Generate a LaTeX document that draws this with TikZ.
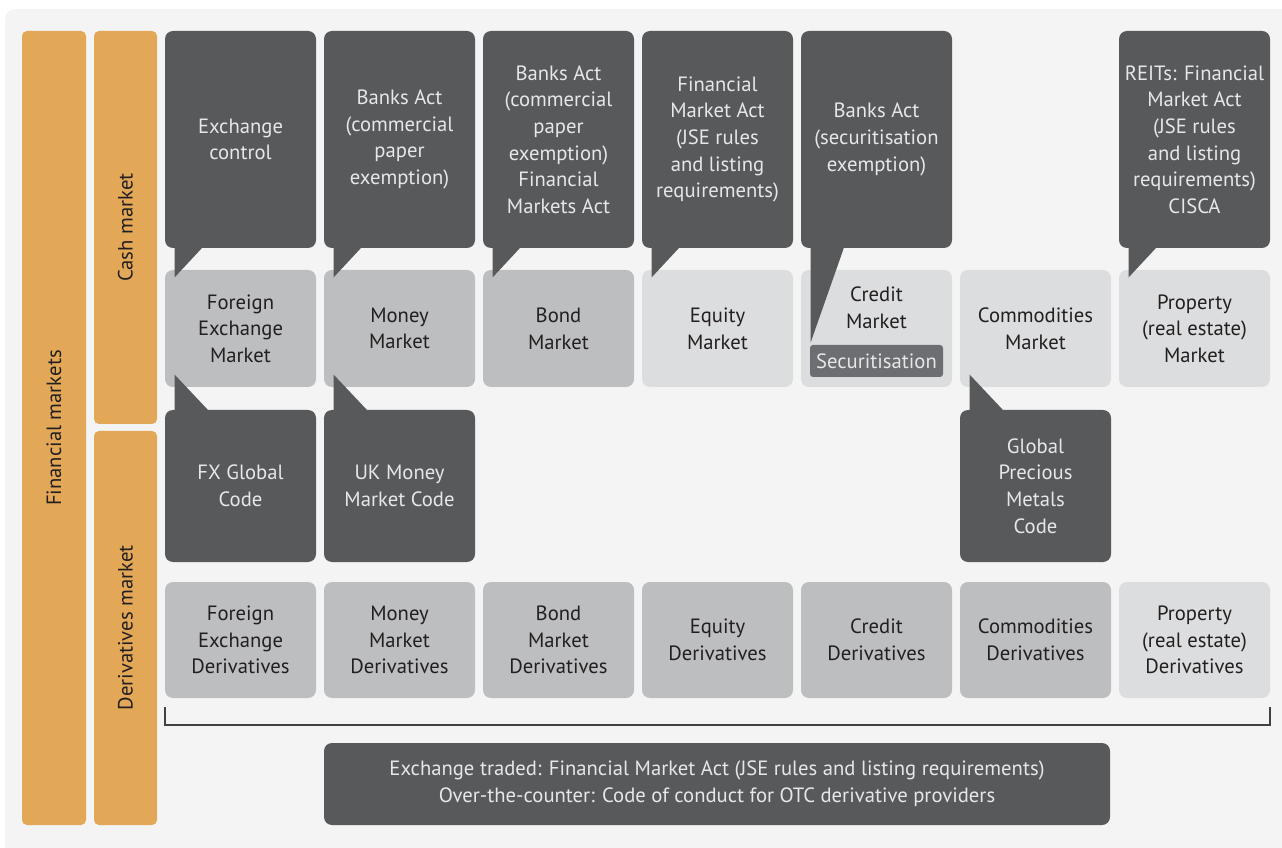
\documentclass[tikz,border=0pt]{standalone}
\usepackage{fontspec}
\setmainfont{PT Sans}
\usepackage{xcolor}
\usepackage{tikz}
\usetikzlibrary{calc}
\definecolor{band}{HTML}{E3A857}
\definecolor{dark}{HTML}{58595B}
\definecolor{midgrey}{HTML}{BDBEC0}
\definecolor{lightgrey}{HTML}{DCDDDE}
\definecolor{backgrey}{HTML}{F4F4F4}
\definecolor{inktext}{HTML}{231F20}
\definecolor{paletext}{HTML}{E6E7E8}
\definecolor{subgrey}{HTML}{6D6E71}
\definecolor{rulegrey}{HTML}{414042}
\newdimen\px \px=0.75pt
\def\colsep{159}

\begin{document}
\begin{tikzpicture}[x=0.75pt,y=-0.75pt, font=\fontsize{15.5}{20}\selectfont]
    \tikzstyle{box}=[rectangle, rounded corners=8\px, inner sep=0pt, align=center, minimum width=151\px]
    \tikzstyle{market}=[box, fill=midgrey, text=inktext, minimum height=117\px]
    \tikzstyle{callout}=[box, fill=dark, text=paletext]
    \tikzstyle{band}=[rectangle, fill=band, rounded corners=5\px, inner sep=0pt, text=inktext, rotate=90]

    \useasboundingbox (0,0) rectangle (1282,848);
    \fill[backgrey, rounded corners=10\px] (5,9) rectangle (1300,870);

    % Draw the orange side bands
    \node[band, minimum width=794\px, minimum height=64\px] (FM) at (54,428) {Financial markets};
    \node[band, minimum width=393\px, minimum height=63\px] (CM) at (125.5,227.5) {Cash market};
    \node[band, minimum width=394\px, minimum height=63\px] (DM) at (125.5,628) {Derivatives market};

    % Draw the cash market nodes
    \foreach \name / \shade / \txt in {1/midgrey/{Foreign\\Exchange\\Market}, 2/midgrey/{Money\\Market},
        3/midgrey/{Bond\\Market}, 4/lightgrey/{Equity\\Market}, 6/lightgrey/{Commodities\\Market},
        7/lightgrey/{Property\\(real estate)\\Market}}
        \node[market, fill=\shade] (M-\name) at ({240.5+(\name-1)*\colsep},328.5) {\txt};
    \node[market, fill=lightgrey] (M-5) at (876.5,328.5) {};
    \node[text=inktext, align=center] (M-5-text) at (876.5,308) {Credit\\Market};

    % Draw the derivatives market nodes
    \foreach \name / \shade / \txt in {1/midgrey/{Foreign\\Exchange\\Derivatives}, 2/midgrey/{Money\\Market\\Derivatives},
        3/midgrey/{Bond\\Market\\Derivatives}, 4/midgrey/{Equity\\Derivatives}, 5/midgrey/{Credit\\Derivatives},
        6/midgrey/{Commodities\\Derivatives}, 7/lightgrey/{Property\\(real estate)\\Derivatives}}
        \node[market, fill=\shade, minimum height=116\px] (D-\name) at ({240.5+(\name-1)*\colsep},640) {\txt};

    % Draw the legislation callouts above the cash market
    \foreach \name / \txt in {1/{Exchange\\control}, 2/{Banks Act\\(commercial\\paper\\exemption)},
        3/{Banks Act\\(commercial\\paper\\exemption)\\Financial\\Markets Act},
        4/{Financial\\Market Act\\(JSE rules\\and listing\\requirements)},
        5/{Banks Act\\(securitisation\\exemption)},
        7/{REITs: Financial\\Market Act\\(JSE rules\\and listing\\requirements)\\CISCA}}
        \node[callout, minimum height=217\px] (C-\name) at ({240.5+(\name-1)*\colsep},139.5) {\txt};

    % Draw the codes of conduct between the rows
    \foreach \name / \txt in {1/{FX Global\\Code}, 2/{UK Money\\Market Code}, 6/{Global\\Precious\\Metals\\Code}}
        \node[callout, minimum height=152\px] (G-\name) at ({240.5+(\name-1)*\colsep},486) {\txt};

    % Pointers of the callouts
    \foreach \name in {1,2,3,4,7}
        \fill[dark] ($(C-\name.south west)+(10,-3)$) -- ($(C-\name.south west)+(10,29)$)
            -- ($(C-\name.south west)+(37,0)$) -- ($(C-\name.south west)+(37,-3)$) -- cycle;
    \fill[dark] ($(C-5.south west)+(10,-3)$) -- ($(C-5.south west)+(10,94)$)
        -- ($(C-5.south west)+(43,0)$) -- ($(C-5.south west)+(43,-3)$) -- cycle;
    \foreach \name in {1,2,6}
        \fill[dark] ($(G-\name.north west)+(10,3)$) -- ($(G-\name.north west)+(10,-35)$)
            -- ($(G-\name.north west)+(43,0)$) -- ($(G-\name.north west)+(43,3)$) -- cycle;

    \node[fill=subgrey, text=paletext, rounded corners=3\px, minimum width=133\px, minimum height=32\px,
        inner sep=0pt] (S-5) at (876.5,361) {Securitisation};

    % Bracket and the note on exchange traded and OTC derivatives
    \draw[rulegrey, line width=2\px] ($(D-1.south west)+(0,9)$) |- ($(D-7.south east)+(0,27)$)
        -- ($(D-7.south east)+(0,9)$);
    \node[callout, minimum width=786\px, minimum height=82\px] (OTC) at (717,784)
        {Exchange traded: Financial Market Act (JSE rules and listing requirements)\\
         Over-the-counter: Code of conduct for OTC derivative providers};
\end{tikzpicture}
\end{document}
